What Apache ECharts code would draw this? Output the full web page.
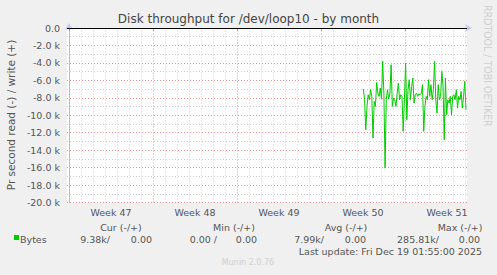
<!DOCTYPE html>
<html><head><meta charset="utf-8">
<script src="https://cdn.jsdelivr.net/npm/echarts@6/dist/echarts.min.js"></script>
<style>html,body{margin:0;padding:0;background:#f0f0f0}#c{width:497px;height:275px}</style>
</head><body><div id="c"></div>
<script>
const chartTitle = 'Disk throughput for /dev/loop10 - by month';
const yAxisName = 'Pr second read (-) / write (+)';
const weekLabels = ['Week 47', 'Week 48', 'Week 49', 'Week 50', 'Week 51'];
const weekLabelDays = [3.5, 10.5, 17.5, 24.5, 31.5];
const weekStartDays = [0, 7, 14, 21, 28];
const dayLines = [1,2,3,4,5,6,8,9,10,11,12,13,15,16,17,18,19,20,22,23,24,25,26,27,29,30,31,32,33];
// read throughput (k bytes/s, shown negative), one value every ~2.4 h
const readK = [
  -7.00,-8.22,-11.66,-8.99,-7.65,-8.22,-7.07,-7.84,-12.62,-8.41,
  -8.99,-6.23,-7.46,-7.84,-6.88,-8.15,-3.82,-7.46,-16.06,-8.22,
  -7.07,-8.15,-7.46,-4.21,-8.99,-8.03,-8.22,-8.99,-7.46,-6.31,
  -8.22,-7.65,-7.84,-11.85,-8.22,-4.02,-10.52,-7.07,-5.93,-8.22,
  -6.69,-5.74,-8.60,-7.65,-7.46,-7.84,-7.53,-7.65,-7.46,-6.50,
  -11.85,-8.99,-7.84,-8.22,-5.93,-7.84,-6.50,-8.22,-7.07,-3.82,
  -8.22,-9.75,-6.50,-8.22,-7.84,-4.97,-6.69,-12.81,-5.74,-9.94,
  -8.22,-8.60,-7.84,-9.94,-7.84,-7.65,-8.22,-7.07,-9.18,-7.84,
  -8.22,-7.27,-9.18,-7.84,-6.12,-9.38
];
const firstDay = 24.53;
const stepDay = 0.1006;
const legendHeaders = ['Cur (-/+)', 'Min (-/+)', 'Avg (-/+)', 'Max (-/+)'];
const legendValues = [['9.38k/', '0.00'], ['0.00 /', '0.00'], ['7.99k/', '0.00'], ['285.81k/', '0.00']];
const seriesName = 'Bytes';
const lastUpdate = 'Last update: Fri Dec 19 01:55:00 2025';
const footer = 'Munin 2.0.76';
const sideText = 'RRDTOOL / TOBI OETIKER';

const FONT = 'DejaVu Sans';
const TXT = '#555';
const MAJOR = 'rgba(230,110,110,0.75)';
const MINOR = 'rgba(150,150,150,0.45)';
const AXIS = '#c4caf2';

const chart = echarts.init(document.getElementById('c'), null, {renderer: 'svg'});

const gridLines = dayLines.map(d => ({xAxis: d, lineStyle: {color: MINOR, type: [1, 2], width: 1}}))
  .concat(weekStartDays.map(d => ({xAxis: d, lineStyle: {color: MAJOR, type: [1, 2], width: 1}})));

const hdrX = [121, 234, 346, 460];
const valX = [[110, 152], [217, 257], [324, 366], [439, 480]];
const graphics = [
  {type: 'text', left: 'center', top: 13, style: {text: chartTitle, font: '12px ' + FONT, fill: '#444'}},
  {type: 'text', x: 11, y: 115, rotation: Math.PI / 2, style: {text: yAxisName, x: 0, y: 0, align: 'center', verticalAlign: 'middle', font: '10.5px ' + FONT, fill: TXT}},
  {type: 'text', x: 488, y: 5, rotation: -Math.PI / 2, style: {text: sideText, x: 0, y: 0, align: 'left', verticalAlign: 'middle', font: '10.5px "DejaVu Sans Condensed", ' + FONT, fill: '#cfcfcf'}},
  {type: 'rect', shape: {x: 14, y: 235, width: 5, height: 5}, style: {fill: '#00cc00'}},
  {type: 'text', x: 20, y: 239, style: {text: seriesName, x: 0, y: 0, align: 'left', verticalAlign: 'middle', font: '9.5px ' + FONT, fill: TXT}},
  {type: 'text', x: 482, y: 251, style: {text: lastUpdate, x: 0, y: 0, align: 'right', verticalAlign: 'middle', font: '9.5px ' + FONT, fill: TXT}},
  {type: 'text', x: 248, y: 262, style: {text: footer, x: 0, y: 0, align: 'center', verticalAlign: 'middle', font: '8px ' + FONT, fill: '#cfcfcf'}}
];
legendHeaders.forEach((h, i) => graphics.push({type: 'text', x: hdrX[i], y: 227, style: {text: h, x: 0, y: 0, align: 'center', verticalAlign: 'middle', font: '9.5px ' + FONT, fill: TXT}}));
legendValues.forEach((pair, i) => pair.forEach((t, j) => graphics.push({type: 'text', x: valX[i][j], y: 239, style: {text: t, x: 0, y: 0, align: 'right', verticalAlign: 'middle', font: '9.5px ' + FONT, fill: TXT}})));

chart.setOption({
  animation: false,
  backgroundColor: '#f0f0f0',
  grid: {left: 67, top: 28, width: 400, height: 174.5, show: true, backgroundColor: '#ffffff', borderWidth: 0},
  xAxis: {
    type: 'value', min: -1 / 6, max: 33 + 1 / 6,
    axisLine: {show: true, lineStyle: {color: AXIS, width: 1}, symbol: ['none', 'arrow'], symbolSize: [6, 7], symbolOffset: [0, 5]},
    axisTick: {show: true, customValues: weekStartDays, length: 3, lineStyle: {color: MAJOR}},
    axisLabel: {show: true, customValues: weekLabelDays, formatter: v => weekLabels[weekLabelDays.indexOf(v)] || '', fontFamily: FONT, fontSize: 9.5, color: TXT, margin: 5},
    splitLine: {show: false}
  },
  yAxis: {
    type: 'value', min: -20, max: 0, interval: 2,
    axisLine: {show: true, lineStyle: {color: AXIS, width: 1}, symbol: ['none', 'arrow'], symbolSize: [6, 7], symbolOffset: [0, 5]},
    axisTick: {show: false},
    axisLabel: {formatter: v => v === 0 ? '0.0' : v.toFixed(1) + ' k', fontFamily: FONT, fontSize: 9.5, color: TXT, margin: 7},
    splitLine: {show: true, lineStyle: {color: MAJOR, type: [1, 2], width: 1}},
    minorTick: {show: false, splitNumber: 2},
    minorSplitLine: {show: true, lineStyle: {color: MINOR, type: [1, 2], width: 1}}
  },
  graphic: graphics,
  series: [
    {
      type: 'line', z: 1, data: [], silent: true,
      markLine: {silent: true, symbol: 'none', label: {show: false}, animation: false, data: gridLines}
    },
    {
      name: seriesName, type: 'line', z: 3, showSymbol: false, symbol: 'none',
      lineStyle: {color: '#00cc00', width: 1}, itemStyle: {color: '#00cc00'},
      data: readK.map((v, i) => [firstDay + i * stepDay, v]),
      markLine: {silent: true, symbol: 'none', label: {show: false}, animation: false,
        data: [{yAxis: 0, lineStyle: {color: '#000', type: 'solid', width: 1}}]}
    }
  ]
});
</script>
</body></html>
